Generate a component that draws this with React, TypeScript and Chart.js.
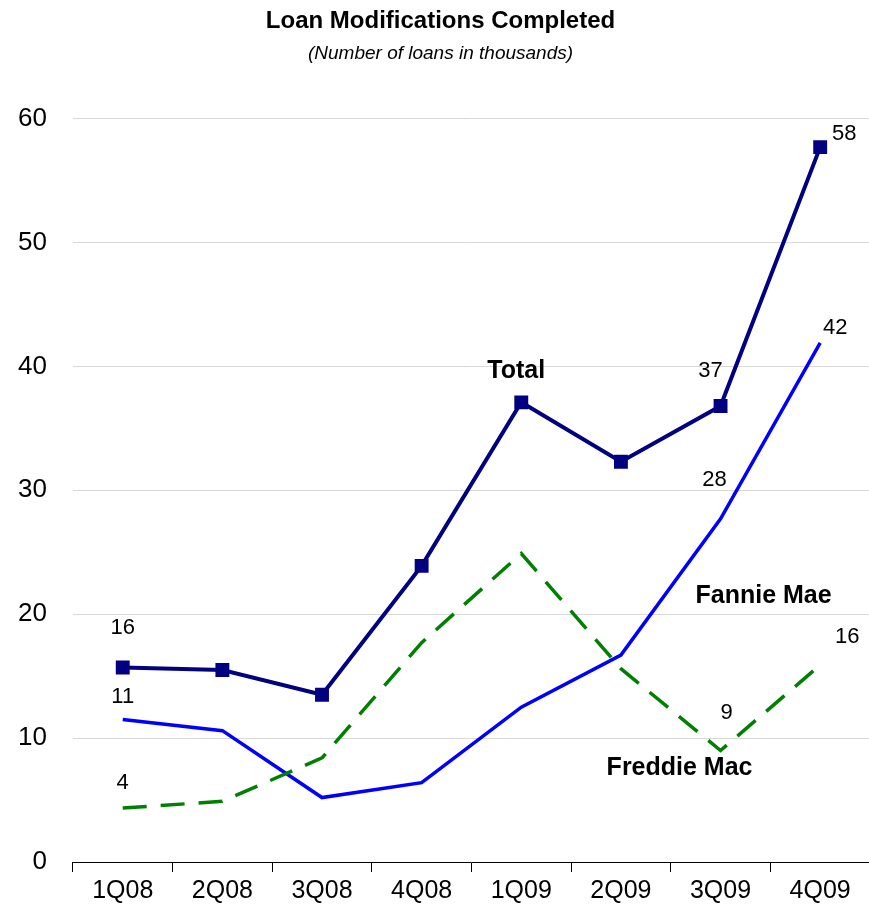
import { useEffect, useRef } from "react"
import { Chart, registerables } from "chart.js"

Chart.register(...registerables)

const quarters = ["1Q08", "2Q08", "3Q08", "4Q08", "1Q09", "2Q09", "3Q09", "4Q09"]
const total = [15.7, 15.5, 13.5, 23.9, 37.1, 32.3, 36.8, 57.7]
const fannieMae = [11.5, 10.6, 5.2, 6.4, 12.5, 16.7, 27.7, 41.9]
const freddieMac = [4.35, 4.9, 8.4, 17.7, 24.9, 15.6, 9.0, 15.9]

// text labels: [category index, value, text, bold, dx]
const labels: [number, number, string, boolean, number][] = [
  [0, 18.9, "16", false, 0],
  [0, 13.3, "11", false, 0],
  [0, 6.4, "4", false, 0],
  [4, 39.6, "Total", true, -5],
  [6, 39.6, "37", false, -10],
  [7, 58.8, "58", false, 24],
  [7, 43.1, "42", false, 15],
  [6, 30.8, "28", false, -6],
  [6, 21.5, "Fannie Mae", true, 43],
  [6, 12.0, "9", false, 6],
  [6, 7.6, "Freddie Mac", true, -41],
  [7, 18.2, "16", false, 27],
]

const labelPlugin = {
  id: "labels",
  afterDatasetsDraw(chart: any) {
    const { ctx, scales } = chart
    ctx.save()
    ctx.fillStyle = "#000"
    ctx.textAlign = "center"
    ctx.textBaseline = "middle"
    labels.forEach(([i, v, t, bold, dx]) => {
      ctx.font = (bold ? "bold 25px" : "22px") + " Arial, 'Liberation Sans', sans-serif"
      ctx.fillText(t, scales.x.getPixelForValue(i) + dx, scales.y.getPixelForValue(v))
    })
    ctx.restore()
  },
}

export default function App() {
  const canvasRef = useRef(null)
  const chartRef = useRef<any>(null)

  useEffect(() => {
    if (chartRef.current) chartRef.current.destroy()
    chartRef.current = new Chart(canvasRef.current, {
      type: "line",
      data: {
        labels: quarters,
        datasets: [
          {
            label: "Freddie Mac",
            data: freddieMac,
            borderColor: "#008000",
            borderWidth: 3.5,
            borderDash: [24, 14],
            pointRadius: 0,
          },
          {
            label: "Fannie Mae",
            data: fannieMae,
            borderColor: "#0000FF",
            borderWidth: 3.5,
            pointRadius: 0,
          },
          {
            label: "Total",
            data: total,
            borderColor: "#000080",
            backgroundColor: "#000080",
            borderWidth: 4,
            pointStyle: "rect",
            pointRadius: 7,
          },
        ],
      },
      options: {
        animation: false,
        responsive: true,
        maintainAspectRatio: false,
        layout: { padding: { left: 0, right: 0, top: 0, bottom: 11 } },
        plugins: {
          legend: { display: false },
          tooltip: { enabled: false },
          title: {
            display: true,
            text: "Loan Modifications Completed",
            color: "#000",
            font: { family: "Arial, 'Liberation Sans', sans-serif", size: 24, weight: "bold" },
            padding: { top: 7, bottom: 7 },
          },
          subtitle: {
            display: true,
            text: "(Number of loans in thousands)",
            color: "#000",
            font: { family: "Arial, 'Liberation Sans', sans-serif", size: 19, style: "italic" },
            padding: { bottom: 53 },
          },
        },
        scales: {
          x: {
            offset: true,
            grid: { offset: true, drawOnChartArea: false, color: "#000", tickLength: 10 },
            border: { color: "#000", width: 1 },
            ticks: {
              color: "#000",
              padding: 4,
              maxRotation: 0,
              font: { family: "Arial, 'Liberation Sans', sans-serif", size: 25 },
            },
          },
          y: {
            min: 0,
            max: 60,
            ticks: {
              stepSize: 10,
              color: "#000",
              padding: 18,
              font: { family: "Arial, 'Liberation Sans', sans-serif", size: 26 },
            },
            grid: { color: "#d9d9d9", tickLength: 8, tickColor: "rgba(0,0,0,0)" },
            border: { display: false },
          },
        },
      },
      plugins: [labelPlugin],
    })
    return () => {
      if (chartRef.current) chartRef.current.destroy()
      chartRef.current = null
    }
  }, [])

  return (
    <div style={{ position: "fixed", left: 0, top: 0, width: 869, height: 921, overflow: "hidden" }}>
      <div style={{ width: 881, height: 921 }}>
        <canvas ref={canvasRef}></canvas>
      </div>
    </div>
  )
}
